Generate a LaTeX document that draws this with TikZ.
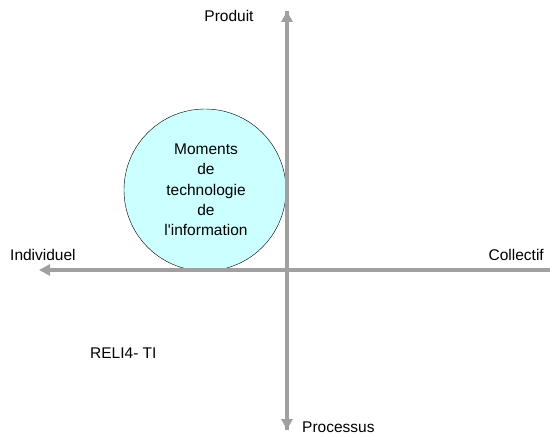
\documentclass[tikz,border=0pt]{standalone}
\usepackage{fontspec}
\setmainfont{Liberation Sans}
\usetikzlibrary{arrows.meta}
\definecolor{axisgray}{HTML}{A0A0A0}
\definecolor{circfill}{HTML}{CCFFFF}
\tikzset{
  axis/.style={draw=axisgray, line width=3.5pt, -{Triangle[length=11pt,width=11pt]}},
  lbl/.style={font=\fontsize{15.5}{18}\selectfont, inner sep=0pt},
}
\begin{document}
\begin{tikzpicture}[x=1pt,y=-1pt]
\useasboundingbox (0,0) rectangle (550,436);
\coordinate (top) at (287,11);
\coordinate (bot) at (287,430);
\coordinate (left) at (39,270);
\coordinate (right) at (551,270);
\node[draw=black, fill=circfill, circle, minimum size=162pt, inner sep=0pt] (circ) at (205,190) {};
\draw[axis] (bot) -- (top);
\draw[axis] (top) -- (bot);
\draw[axis] (right) -- (left);
\node[lbl, align=center, font=\fontsize{15.5}{20.3}\selectfont] (txt) at (206,190) {Moments\\de\\technologie\\de\\l\textquotesingle information};
\node[lbl] (prod) at (229,16) {Produit};
\node[lbl, anchor=west] (proc) at (302,427) {Processus};
\node[lbl, anchor=west] (ind) at (10,255) {Individuel};
\node[lbl, anchor=east] (col) at (544,255) {Collectif};
\node[lbl, anchor=west] (reli) at (90,353) {RELI4- TI};
\end{tikzpicture}
\end{document}
